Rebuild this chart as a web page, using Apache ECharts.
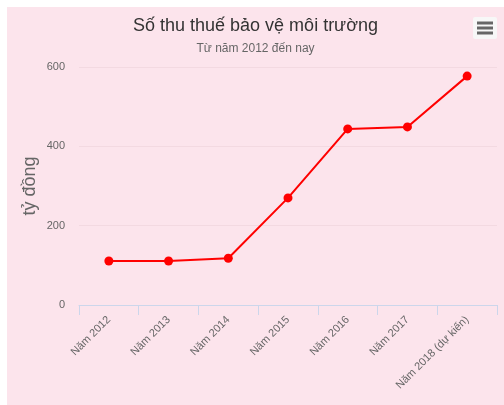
<!DOCTYPE html>
<html>
<head>
<meta charset="utf-8">
<script src="https://cdn.jsdelivr.net/npm/echarts@6/dist/echarts.min.js"></script>
<style>
  html, body { margin: 0; padding: 0; background: #ffffff; }
  #main { position: absolute; left: 7px; top: 7px; width: 497px; height: 398px; background: #fce4ec; }
</style>
</head>
<body>
<div id="main"></div>
<script>
const categories = ["Năm 2012", "Năm 2013", "Năm 2014", "Năm 2015", "Năm 2016", "Năm 2017", "Năm 2018 (dự kiến)"];
const revenue = [111, 111, 118, 270, 444, 449, 577];
const yTicks = { min: 0, max: 600, interval: 200 };

const chartDom = document.getElementById("main");
const myChart = echarts.init(chartDom);
const fontFamily = "'Liberation Sans', Arial, Helvetica, sans-serif";

const option = {
  backgroundColor: "#fce4ec",
  textStyle: { fontFamily: fontFamily },
  title: {
    text: "Số thu thuế bảo vệ môi trường",
    subtext: "Từ năm 2012 đến nay",
    left: "center",
    top: 5,
    itemGap: 8,
    textStyle: { fontSize: 18, fontWeight: "normal", color: "#333333", fontFamily: fontFamily },
    subtextStyle: { fontSize: 12, color: "#666666", fontFamily: fontFamily },
  },
  grid: { left: 72, right: 7, top: 60, bottom: 100, containLabel: false },
  xAxis: {
    type: "category",
    data: categories,
    boundaryGap: true,
    axisLine: { show: true, lineStyle: { color: "#ccd6eb", width: 1 } },
    axisTick: { show: true, length: 10, alignWithLabel: false, lineStyle: { color: "#ccd6eb" } },
    axisLabel: { rotate: 45, color: "#666666", fontSize: 11, margin: 13, interval: 0 },
    splitLine: { show: false },
  },
  yAxis: {
    type: "value",
    min: yTicks.min,
    max: yTicks.max,
    interval: yTicks.interval,
    name: "tỷ đồng",
    nameLocation: "middle",
    nameRotate: 90,
    nameGap: 40,
    nameMoveOverlap: false,
    nameTextStyle: { fontSize: 18, color: "#666666" },
    axisLine: { show: false },
    axisTick: { show: false },
    axisLabel: { color: "#666666", fontSize: 11, margin: 14 },
    splitLine: { lineStyle: { color: "#f3d9e1", width: 1 } },
  },
  series: [
    {
      name: "Số thu",
      type: "line",
      data: revenue,
      color: "#ff0000",
      lineStyle: { width: 2, color: "#ff0000" },
      symbol: "circle",
      symbolSize: 9,
      itemStyle: { color: "#ff0000" },
      animation: false,
    },
  ],
  graphic: [
    {
      type: "group",
      right: 7,
      top: 10,
      children: [
        { type: "rect", shape: { x: 0, y: 0, width: 24, height: 22, r: 2 }, style: { fill: "#f7f7f7" } },
        { type: "line", shape: { x1: 4, y1: 6, x2: 20, y2: 6 }, style: { stroke: "#666666", lineWidth: 3 } },
        { type: "line", shape: { x1: 4, y1: 11, x2: 20, y2: 11 }, style: { stroke: "#666666", lineWidth: 3 } },
        { type: "line", shape: { x1: 4, y1: 16, x2: 20, y2: 16 }, style: { stroke: "#666666", lineWidth: 3 } },
      ],
    },
  ],
};

option && myChart.setOption(option);
</script>
</body>
</html>
